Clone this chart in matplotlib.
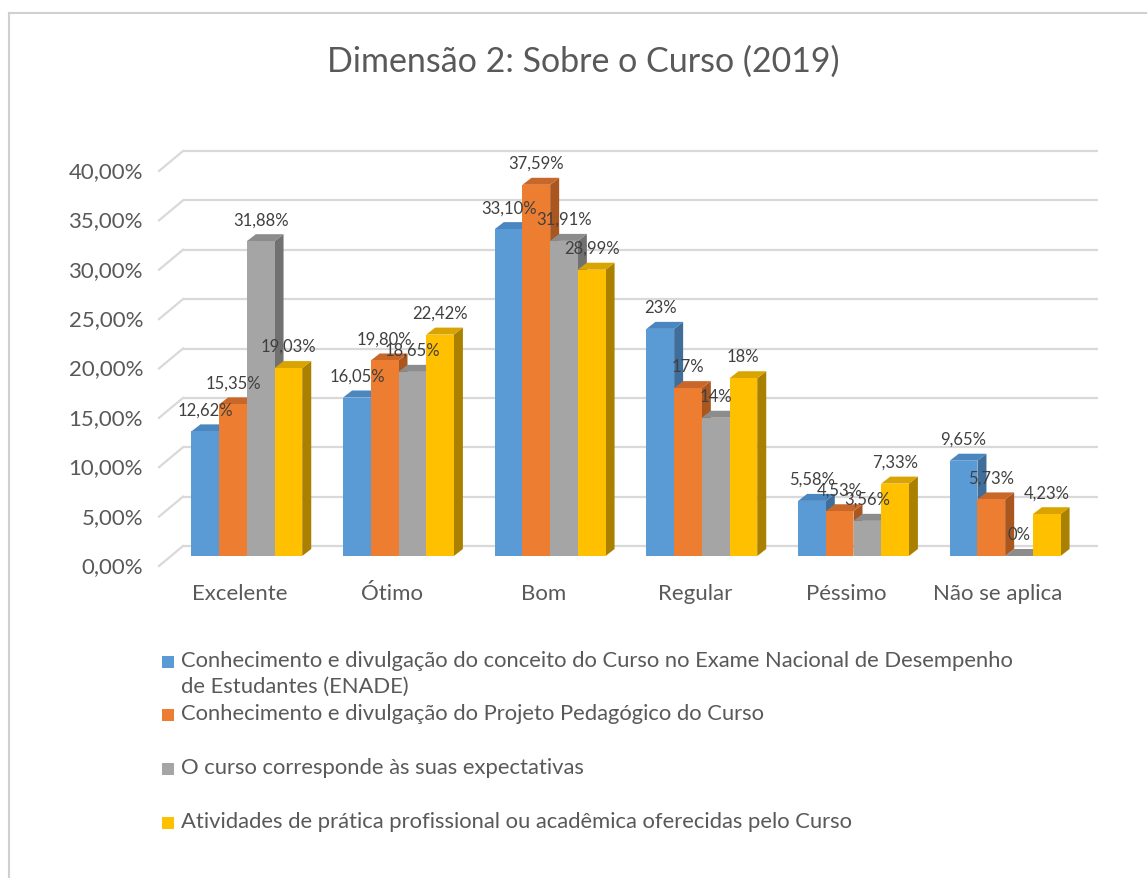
import matplotlib
matplotlib.use("Agg")
import matplotlib.pyplot as plt
from matplotlib.patches import Polygon, Rectangle
from matplotlib.lines import Line2D
import numpy as np

plt.rcParams['font.family'] = ['Lato', 'DejaVu Sans']

title = "Dimensão 2: Sobre o Curso (2019)"
categories = ["Excelente", "Ótimo", "Bom", "Regular", "Péssimo", "Não se aplica"]
series_names = [
    "Conhecimento e divulgação do conceito do Curso no Exame Nacional de Desempenho\nde Estudantes (ENADE)",
    "Conhecimento e divulgação do Projeto Pedagógico do Curso",
    "O curso corresponde às suas expectativas",
    "Atividades de prática profissional ou acadêmica oferecidas pelo Curso",
]
enade = [12.62, 16.05, 33.10, 23, 5.58, 9.65]
projeto = [15.35, 19.80, 37.59, 17, 4.53, 5.73]
expectativas = [31.88, 18.65, 31.91, 14, 3.56, 0]
atividades = [19.03, 22.42, 28.99, 18, 7.33, 4.23]
y_ticks = [0, 5, 10, 15, 20, 25, 30, 35, 40]

series = [enade, projeto, expectativas, atividades]
front_colors = ["#5B9BD5", "#ED7D31", "#A5A5A5", "#FFC000"]
top_colors = ["#4A86BF", "#C9672A", "#8C8C8C", "#D9A400"]
side_colors = ["#3E6E99", "#A9561F", "#717171", "#A98000"]
text_gray = "#595959"
grid_gray = "#D9D9D9"

W, H = 1147, 879
fig = plt.figure(figsize=(W / 100, H / 100), dpi=100)

# axes placed in pixels so offsets in px are easy
ax_l, ax_r, ax_t, ax_b = 171, 1081, 162, 557
ax = fig.add_axes([ax_l / W, 1 - ax_b / H, (ax_r - ax_l) / W, (ax_b - ax_t) / H])
ax.set_xlim(-0.5, 5.5)
ax.set_ylim(0, 40)
ax.axis("off")

px_x = 6 / (ax_r - ax_l)   # data units per pixel
px_y = 40 / (ax_b - ax_t)

# back wall gridlines + left wall diagonals
wall_dx, wall_dy = 12 * px_x, 10 * px_y
for v in y_ticks:
    ax.plot([-0.5 + wall_dx, 5.5 + wall_dx + 5 * px_x], [v + wall_dy, v + wall_dy],
            color=grid_gray, lw=1.6, zorder=1, clip_on=False, solid_capstyle="butt")
    ax.plot([-0.5 - wall_dx, -0.5 + wall_dx], [v - wall_dy, v + wall_dy],
            color=grid_gray, lw=1.6, zorder=1, clip_on=False)
    ax.annotate(f"{v:.2f}%".replace(".", ","), (-0.5, v), xytext=(-28, -10),
                textcoords="offset pixels", ha="right", va="center",
                fontsize=16, color=text_gray, annotation_clip=False)

# 3D-ish clustered columns
x = np.arange(len(categories))
bw = 27.7 * px_x
ddx, ddy = 9 * px_x, 7 * px_y
for i, vals in enumerate(series):
    xs = x + (i - 1.5) * bw
    z = 3 + i
    ax.bar(xs, vals, width=bw, color=front_colors[i], zorder=z + 0.3, linewidth=0)
    for xc, v in zip(xs, vals):
        r = xc + bw / 2
        l = xc - bw / 2
        ax.add_patch(Polygon([(r, 0), (r + ddx, ddy), (r + ddx, v + ddy), (r, v)],
                             closed=True, color=side_colors[i], lw=0, zorder=z + 0.1))
        ax.add_patch(Polygon([(l, v), (l + ddx, v + ddy), (r + ddx, v + ddy), (r, v)],
                             closed=True, color=top_colors[i], lw=0, zorder=z + 0.2))
        lab = f"{v:.0f}%" if float(v).is_integer() else f"{v:.2f}%".replace(".", ",")
        ax.annotate(lab, (xc, v), xytext=(0, 22), textcoords="offset pixels",
                    ha="center", va="center", fontsize=12, color="#404040",
                    zorder=20, annotation_clip=False)

for i, c in enumerate(categories):
    ax.annotate(c, (i, 0), xytext=(-7, -37), textcoords="offset pixels",
                ha="center", va="center", fontsize=16, color=text_gray,
                annotation_clip=False)

fig.text(583 / W, 1 - 62 / H, title, ha="center", va="center",
         fontsize=24.5, color=text_gray)

# legend drawn by hand to match the Excel layout
leg_y = [663, 716, 770, 824]
for i, name in enumerate(series_names):
    y = leg_y[i]
    fig.patches.append(Rectangle((162 / W, 1 - (y + 6) / H), 12 / W, 12 / H,
                                 transform=fig.transFigure, color=front_colors[i], lw=0))
    fig.text(181 / W, 1 - (y - 12) / H, name, ha="left", va="top",
             fontsize=15.8, color=text_gray, linespacing=1.37)

# chart border (cropped screenshot: top and left edges visible)
fig.lines.append(Line2D([8.5 / W, 8.5 / W], [0, 1 - 13.5 / H], transform=fig.transFigure,
                        color="#D0D0D0", lw=1.5))
fig.lines.append(Line2D([8.5 / W, 1], [1 - 13.5 / H, 1 - 13.5 / H], transform=fig.transFigure,
                        color="#D0D0D0", lw=1.5))

fig.savefig("out.png", dpi=100)
